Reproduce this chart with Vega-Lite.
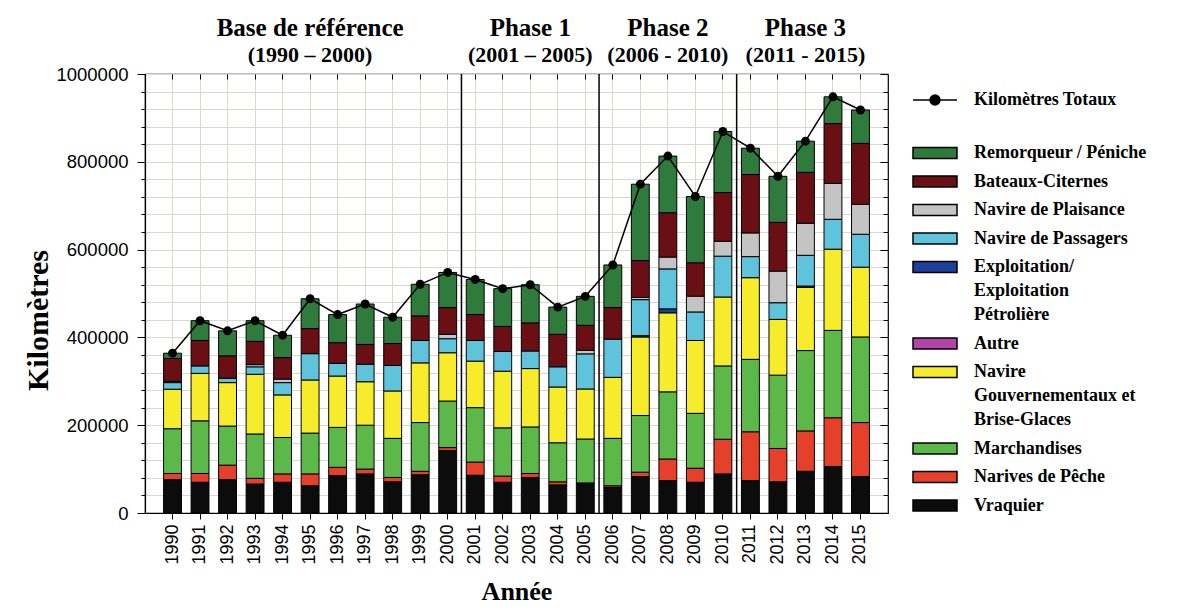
{
  "$schema": "https://vega.github.io/schema/vega-lite/v6.json",
  "width": 743,
  "height": 439,
  "autosize": "none",
  "padding": {"left": 145, "top": 74, "right": 296, "bottom": 99},
  "background": "white",
  "config": {
    "view": {"stroke": "black", "strokeWidth": 1.2},
    "font": "Liberation Sans",
    "style": {"guide-label": {"lineHeight": 24}},
    "axis": {"domainColor": "black", "tickColor": "black", "labelColor": "black", "titleColor": "black", "gridColor": "#dcd6d0", "gridWidth": 1}
  },
  "data": {"values": [
    {"year":"1990","cat":"Vraquier","km":76000},{"year":"1990","cat":"Narives de Pêche","km":14000},{"year":"1990","cat":"Marchandises","km":102000},{"year":"1990","cat":"Navire Gouvernementaux et Brise-Glaces","km":90000},{"year":"1990","cat":"Navire de Passagers","km":15000},{"year":"1990","cat":"Navire de Plaisance","km":3000},{"year":"1990","cat":"Bateaux-Citernes","km":52000},{"year":"1990","cat":"Remorqueur / Péniche","km":12000},
    {"year":"1991","cat":"Vraquier","km":70000},{"year":"1991","cat":"Narives de Pêche","km":20000},{"year":"1991","cat":"Marchandises","km":120000},{"year":"1991","cat":"Navire Gouvernementaux et Brise-Glaces","km":108000},{"year":"1991","cat":"Navire de Passagers","km":17000},{"year":"1991","cat":"Bateaux-Citernes","km":58000},{"year":"1991","cat":"Remorqueur / Péniche","km":45000},
    {"year":"1992","cat":"Vraquier","km":76000},{"year":"1992","cat":"Narives de Pêche","km":33000},{"year":"1992","cat":"Marchandises","km":89000},{"year":"1992","cat":"Navire Gouvernementaux et Brise-Glaces","km":99000},{"year":"1992","cat":"Navire de Passagers","km":10000},{"year":"1992","cat":"Bateaux-Citernes","km":51000},{"year":"1992","cat":"Remorqueur / Péniche","km":57000},
    {"year":"1993","cat":"Vraquier","km":66000},{"year":"1993","cat":"Narives de Pêche","km":13000},{"year":"1993","cat":"Marchandises","km":101000},{"year":"1993","cat":"Navire Gouvernementaux et Brise-Glaces","km":136000},{"year":"1993","cat":"Navire de Passagers","km":17000},{"year":"1993","cat":"Navire de Plaisance","km":5000},{"year":"1993","cat":"Bateaux-Citernes","km":53000},{"year":"1993","cat":"Remorqueur / Péniche","km":47000},
    {"year":"1994","cat":"Vraquier","km":70000},{"year":"1994","cat":"Narives de Pêche","km":19000},{"year":"1994","cat":"Marchandises","km":83000},{"year":"1994","cat":"Navire Gouvernementaux et Brise-Glaces","km":97000},{"year":"1994","cat":"Navire de Passagers","km":28000},{"year":"1994","cat":"Navire de Plaisance","km":8000},{"year":"1994","cat":"Bateaux-Citernes","km":49000},{"year":"1994","cat":"Remorqueur / Péniche","km":51000},
    {"year":"1995","cat":"Vraquier","km":62000},{"year":"1995","cat":"Narives de Pêche","km":27000},{"year":"1995","cat":"Marchandises","km":93000},{"year":"1995","cat":"Navire Gouvernementaux et Brise-Glaces","km":121000},{"year":"1995","cat":"Navire de Passagers","km":60000},{"year":"1995","cat":"Bateaux-Citernes","km":57000},{"year":"1995","cat":"Remorqueur / Péniche","km":68000},
    {"year":"1996","cat":"Vraquier","km":85000},{"year":"1996","cat":"Narives de Pêche","km":19000},{"year":"1996","cat":"Marchandises","km":91000},{"year":"1996","cat":"Navire Gouvernementaux et Brise-Glaces","km":117000},{"year":"1996","cat":"Navire de Passagers","km":29000},{"year":"1996","cat":"Bateaux-Citernes","km":47000},{"year":"1996","cat":"Remorqueur / Péniche","km":64000},
    {"year":"1997","cat":"Vraquier","km":89000},{"year":"1997","cat":"Narives de Pêche","km":11000},{"year":"1997","cat":"Marchandises","km":100000},{"year":"1997","cat":"Navire Gouvernementaux et Brise-Glaces","km":99000},{"year":"1997","cat":"Navire de Passagers","km":40000},{"year":"1997","cat":"Bateaux-Citernes","km":45000},{"year":"1997","cat":"Remorqueur / Péniche","km":92000},
    {"year":"1998","cat":"Vraquier","km":71000},{"year":"1998","cat":"Narives de Pêche","km":10000},{"year":"1998","cat":"Marchandises","km":89000},{"year":"1998","cat":"Navire Gouvernementaux et Brise-Glaces","km":108000},{"year":"1998","cat":"Navire de Passagers","km":58000},{"year":"1998","cat":"Bateaux-Citernes","km":50000},{"year":"1998","cat":"Remorqueur / Péniche","km":60000},
    {"year":"1999","cat":"Vraquier","km":87000},{"year":"1999","cat":"Narives de Pêche","km":8000},{"year":"1999","cat":"Marchandises","km":111000},{"year":"1999","cat":"Navire Gouvernementaux et Brise-Glaces","km":136000},{"year":"1999","cat":"Navire de Passagers","km":51000},{"year":"1999","cat":"Bateaux-Citernes","km":56000},{"year":"1999","cat":"Remorqueur / Péniche","km":72000},
    {"year":"2000","cat":"Vraquier","km":142000},{"year":"2000","cat":"Narives de Pêche","km":7000},{"year":"2000","cat":"Marchandises","km":106000},{"year":"2000","cat":"Navire Gouvernementaux et Brise-Glaces","km":110000},{"year":"2000","cat":"Navire de Passagers","km":32000},{"year":"2000","cat":"Navire de Plaisance","km":10000},{"year":"2000","cat":"Bateaux-Citernes","km":61000},{"year":"2000","cat":"Remorqueur / Péniche","km":80000},
    {"year":"2001","cat":"Vraquier","km":86000},{"year":"2001","cat":"Narives de Pêche","km":30000},{"year":"2001","cat":"Marchandises","km":124000},{"year":"2001","cat":"Navire Gouvernementaux et Brise-Glaces","km":106000},{"year":"2001","cat":"Navire de Passagers","km":47000},{"year":"2001","cat":"Bateaux-Citernes","km":59000},{"year":"2001","cat":"Remorqueur / Péniche","km":80000},
    {"year":"2002","cat":"Vraquier","km":70000},{"year":"2002","cat":"Narives de Pêche","km":14000},{"year":"2002","cat":"Marchandises","km":110000},{"year":"2002","cat":"Navire Gouvernementaux et Brise-Glaces","km":129000},{"year":"2002","cat":"Navire de Passagers","km":45000},{"year":"2002","cat":"Bateaux-Citernes","km":57000},{"year":"2002","cat":"Remorqueur / Péniche","km":86000},
    {"year":"2003","cat":"Vraquier","km":81000},{"year":"2003","cat":"Narives de Pêche","km":9000},{"year":"2003","cat":"Marchandises","km":106000},{"year":"2003","cat":"Navire Gouvernementaux et Brise-Glaces","km":133000},{"year":"2003","cat":"Navire de Passagers","km":40000},{"year":"2003","cat":"Bateaux-Citernes","km":64000},{"year":"2003","cat":"Remorqueur / Péniche","km":87000},
    {"year":"2004","cat":"Vraquier","km":64000},{"year":"2004","cat":"Narives de Pêche","km":7000},{"year":"2004","cat":"Marchandises","km":89000},{"year":"2004","cat":"Navire Gouvernementaux et Brise-Glaces","km":127000},{"year":"2004","cat":"Navire de Passagers","km":46000},{"year":"2004","cat":"Bateaux-Citernes","km":74000},{"year":"2004","cat":"Remorqueur / Péniche","km":62000},
    {"year":"2005","cat":"Vraquier","km":67000},{"year":"2005","cat":"Narives de Pêche","km":1500},{"year":"2005","cat":"Marchandises","km":100000},{"year":"2005","cat":"Navire Gouvernementaux et Brise-Glaces","km":114000},{"year":"2005","cat":"Navire de Passagers","km":80000},{"year":"2005","cat":"Navire de Plaisance","km":8000},{"year":"2005","cat":"Bateaux-Citernes","km":57000},{"year":"2005","cat":"Remorqueur / Péniche","km":66000},
    {"year":"2006","cat":"Vraquier","km":58000},{"year":"2006","cat":"Narives de Pêche","km":4000},{"year":"2006","cat":"Marchandises","km":108000},{"year":"2006","cat":"Navire Gouvernementaux et Brise-Glaces","km":139000},{"year":"2006","cat":"Navire de Passagers","km":87000},{"year":"2006","cat":"Bateaux-Citernes","km":72000},{"year":"2006","cat":"Remorqueur / Péniche","km":97000},
    {"year":"2007","cat":"Vraquier","km":83000},{"year":"2007","cat":"Narives de Pêche","km":10000},{"year":"2007","cat":"Marchandises","km":129000},{"year":"2007","cat":"Navire Gouvernementaux et Brise-Glaces","km":179000},{"year":"2007","cat":"Exploitation/ Exploitation Pétrolière","km":3000},{"year":"2007","cat":"Navire de Passagers","km":82000},{"year":"2007","cat":"Navire de Plaisance","km":5000},{"year":"2007","cat":"Bateaux-Citernes","km":84000},{"year":"2007","cat":"Remorqueur / Péniche","km":174000},
    {"year":"2008","cat":"Vraquier","km":74000},{"year":"2008","cat":"Narives de Pêche","km":49000},{"year":"2008","cat":"Marchandises","km":153000},{"year":"2008","cat":"Navire Gouvernementaux et Brise-Glaces","km":180000},{"year":"2008","cat":"Exploitation/ Exploitation Pétrolière","km":9000},{"year":"2008","cat":"Navire de Passagers","km":91000},{"year":"2008","cat":"Navire de Plaisance","km":27000},{"year":"2008","cat":"Bateaux-Citernes","km":101000},{"year":"2008","cat":"Remorqueur / Péniche","km":129000},
    {"year":"2009","cat":"Vraquier","km":70000},{"year":"2009","cat":"Narives de Pêche","km":32000},{"year":"2009","cat":"Marchandises","km":125000},{"year":"2009","cat":"Navire Gouvernementaux et Brise-Glaces","km":166000},{"year":"2009","cat":"Navire de Passagers","km":65000},{"year":"2009","cat":"Navire de Plaisance","km":36000},{"year":"2009","cat":"Bateaux-Citernes","km":76000},{"year":"2009","cat":"Remorqueur / Péniche","km":151000},
    {"year":"2010","cat":"Vraquier","km":89000},{"year":"2010","cat":"Narives de Pêche","km":79000},{"year":"2010","cat":"Marchandises","km":167000},{"year":"2010","cat":"Navire Gouvernementaux et Brise-Glaces","km":157000},{"year":"2010","cat":"Navire de Passagers","km":93000},{"year":"2010","cat":"Navire de Plaisance","km":34000},{"year":"2010","cat":"Bateaux-Citernes","km":111000},{"year":"2010","cat":"Remorqueur / Péniche","km":139000},
    {"year":"2011","cat":"Vraquier","km":74000},{"year":"2011","cat":"Narives de Pêche","km":111000},{"year":"2011","cat":"Marchandises","km":165000},{"year":"2011","cat":"Navire Gouvernementaux et Brise-Glaces","km":186000},{"year":"2011","cat":"Navire de Passagers","km":48000},{"year":"2011","cat":"Navire de Plaisance","km":54000},{"year":"2011","cat":"Bateaux-Citernes","km":133000},{"year":"2011","cat":"Remorqueur / Péniche","km":60000},
    {"year":"2012","cat":"Vraquier","km":71000},{"year":"2012","cat":"Narives de Pêche","km":76000},{"year":"2012","cat":"Marchandises","km":167000},{"year":"2012","cat":"Navire Gouvernementaux et Brise-Glaces","km":127000},{"year":"2012","cat":"Navire de Passagers","km":38000},{"year":"2012","cat":"Navire de Plaisance","km":72000},{"year":"2012","cat":"Bateaux-Citernes","km":111000},{"year":"2012","cat":"Remorqueur / Péniche","km":105000},
    {"year":"2013","cat":"Vraquier","km":95000},{"year":"2013","cat":"Narives de Pêche","km":92000},{"year":"2013","cat":"Marchandises","km":183000},{"year":"2013","cat":"Navire Gouvernementaux et Brise-Glaces","km":144000},{"year":"2013","cat":"Exploitation/ Exploitation Pétrolière","km":3000},{"year":"2013","cat":"Navire de Passagers","km":70000},{"year":"2013","cat":"Navire de Plaisance","km":73000},{"year":"2013","cat":"Bateaux-Citernes","km":116000},{"year":"2013","cat":"Remorqueur / Péniche","km":71000},
    {"year":"2014","cat":"Vraquier","km":106000},{"year":"2014","cat":"Narives de Pêche","km":111000},{"year":"2014","cat":"Marchandises","km":199000},{"year":"2014","cat":"Navire Gouvernementaux et Brise-Glaces","km":185000},{"year":"2014","cat":"Navire de Passagers","km":68000},{"year":"2014","cat":"Navire de Plaisance","km":82000},{"year":"2014","cat":"Bateaux-Citernes","km":136000},{"year":"2014","cat":"Remorqueur / Péniche","km":61000},
    {"year":"2015","cat":"Vraquier","km":83000},{"year":"2015","cat":"Narives de Pêche","km":123000},{"year":"2015","cat":"Marchandises","km":195000},{"year":"2015","cat":"Navire Gouvernementaux et Brise-Glaces","km":159000},{"year":"2015","cat":"Navire de Passagers","km":75000},{"year":"2015","cat":"Navire de Plaisance","km":68000},{"year":"2015","cat":"Bateaux-Citernes","km":139000},{"year":"2015","cat":"Remorqueur / Péniche","km":76000}
  ]},
  "resolve": {"axis": {"x": "independent", "y": "independent"}},
  "layer": [
    {
      "transform": [{"window": [{"op": "row_number", "as": "rang"}], "groupby": ["year"]}],
      "mark": {"type": "bar", "width": {"band": 0.65}, "stroke": "black", "strokeWidth": 1},
      "encoding": {
        "x": {"field": "year", "type": "ordinal", "scale": {"paddingInner": 0, "paddingOuter": 0.5},
          "axis": {"orient": "bottom", "title": "Année", "titleFont": "Liberation Serif", "titleFontSize": 26, "titleFontWeight": "bold", "titleBaseline": "alphabetic", "titleY": 86, "labelAngle": 270, "labelFontSize": 18, "labelPadding": 5, "tickSize": 6, "grid": true, "domainWidth": 1.2}},
        "y": {"field": "km", "type": "quantitative", "stack": "zero", "scale": {"domain": [0, 1000000], "nice": false},
          "axis": {"orient": "left", "title": "Kilomètres", "titleFont": "Liberation Serif", "titleFontSize": 30, "titleFontWeight": "bold", "titleBaseline": "alphabetic", "titleAngle": 270, "titleX": -98, "titleY": 246,
            "values": [0,40000,80000,120000,160000,200000,240000,280000,320000,360000,400000,440000,480000,520000,560000,600000,640000,680000,720000,760000,800000,840000,880000,920000,960000,1000000],
            "format": "d", "labelExpr": "datum.value % 200000 === 0 ? datum.label : ''", "labelFontSize": 18.5, "labelPadding": 9,
            "tickSize": {"condition": {"test": "datum.value % 200000 === 0", "value": 8}, "value": 4}, "grid": true, "domainWidth": 1.2}},
        "fill": {"field": "cat", "type": "nominal",
          "scale": {"domain": ["Remorqueur / Péniche", "Bateaux-Citernes", "Navire de Plaisance", "Navire de Passagers", "Exploitation/ Exploitation Pétrolière", "Autre", "Navire Gouvernementaux et Brise-Glaces", "Marchandises", "Narives de Pêche", "Vraquier"],
            "range": ["#2e7b3c", "#6a1014", "#c4c4c4", "#5fc3db", "#1e3f99", "#b146a8", "#f7ec2b", "#5db84a", "#e5402a", "#0c0c0c"]},
          "legend": {"orient": "none", "legendX": 781, "legendY": 70, "title": null, "padding": 0,
            "symbolType": "M-4,-1H4V1H-4Z", "symbolSize": 121, "symbolStrokeColor": "black", "symbolStrokeWidth": 1.5, "symbolOpacity": 1,
            "labelFont": "Liberation Serif", "labelFontWeight": "bold", "labelFontSize": 18, "labelLimit": 400, "labelOffset": 30, "rowPadding": 10.5, "labelColor": "black",
            "labelExpr": "datum.label == 'Exploitation/ Exploitation Pétrolière' ? ['Exploitation/', 'Exploitation', 'Pétrolière'] : datum.label == 'Navire Gouvernementaux et Brise-Glaces' ? ['Navire', 'Gouvernementaux et', 'Brise-Glaces'] : datum.label"}},
        "order": {"field": "rang", "type": "quantitative", "sort": "ascending"}
      }
    },
    {
      "data": {"values": [{"year": "2001"}, {"year": "2006"}, {"year": "2011"}]},
      "mark": {"type": "rule", "color": "black", "strokeWidth": 1.5},
      "encoding": {
        "x": {"field": "year", "type": "ordinal", "bandPosition": 0,
          "axis": {"orient": "top", "title": null, "domain": false, "grid": false, "ticks": false, "labelAngle": 0, "labelOverlap": false, "labelBound": false, "labelLimit": 400,
            "labelFont": "Liberation Serif", "labelFontWeight": "bold", "labelFontSize": 25, "labelBaseline": "alphabetic", "labelPadding": 39,
            "labelExpr": "datum.value == '1995' ? 'Base de référence' : datum.value == '2003' ? 'Phase 1' : datum.value == '2008' ? 'Phase 2' : datum.value == '2013' ? 'Phase 3' : ''"}}
      }
    },
    {
      "mark": {"type": "line", "color": "black", "strokeWidth": 1.5},
      "encoding": {
        "x": {"field": "year", "type": "ordinal", "axis": null},
        "y": {"field": "km", "type": "quantitative", "aggregate": "sum",
          "axis": {"orient": "right", "title": null, "labels": false, "domain": false, "grid": false,
            "values": [0,40000,80000,120000,160000,200000,240000,280000,320000,360000,400000,440000,480000,520000,560000,600000,640000,680000,720000,760000,800000,840000,880000,920000,960000,1000000],
            "tickSize": {"condition": {"test": "datum.value % 200000 === 0", "value": -8}, "value": -5}}},
        "stroke": {"datum": "Kilomètres Totaux", "type": "nominal", "scale": {"range": ["black"]},
          "legend": {"orient": "none", "legendX": 781, "legendY": 17, "title": null, "padding": 0,
            "symbolType": "M-4,0H4M0.9,0A0.9,0.9,0,1,1,-0.9,0A0.9,0.9,0,1,1,0.9,0", "symbolSize": 121, "symbolFillColor": "black", "symbolStrokeColor": "black", "symbolStrokeWidth": 1.5,
            "labelFont": "Liberation Serif", "labelFontWeight": "bold", "labelFontSize": 18, "labelOffset": 30, "labelLimit": 400, "labelColor": "black"}}
      }
    },
    {
      "mark": {"type": "point", "filled": true, "color": "black", "size": 80, "opacity": 1},
      "encoding": {
        "x": {"field": "year", "type": "ordinal",
          "axis": {"orient": "top", "title": null, "domain": false, "grid": false, "ticks": true, "tickSize": -5, "labelAngle": 0, "labelOverlap": false, "labelBound": false, "labelLimit": 400,
            "labelFont": "Liberation Serif", "labelFontWeight": "bold", "labelFontSize": 22, "labelBaseline": "alphabetic", "labelPadding": 18,
            "labelExpr": "datum.value == '1995' ? '(1990 – 2000)' : datum.value == '2003' ? '(2001 – 2005)' : datum.value == '2008' ? '(2006 - 2010)' : datum.value == '2013' ? '(2011 - 2015)' : ''"}},
        "y": {"field": "km", "type": "quantitative", "aggregate": "sum", "axis": null}
      }
    }
  ]
}
